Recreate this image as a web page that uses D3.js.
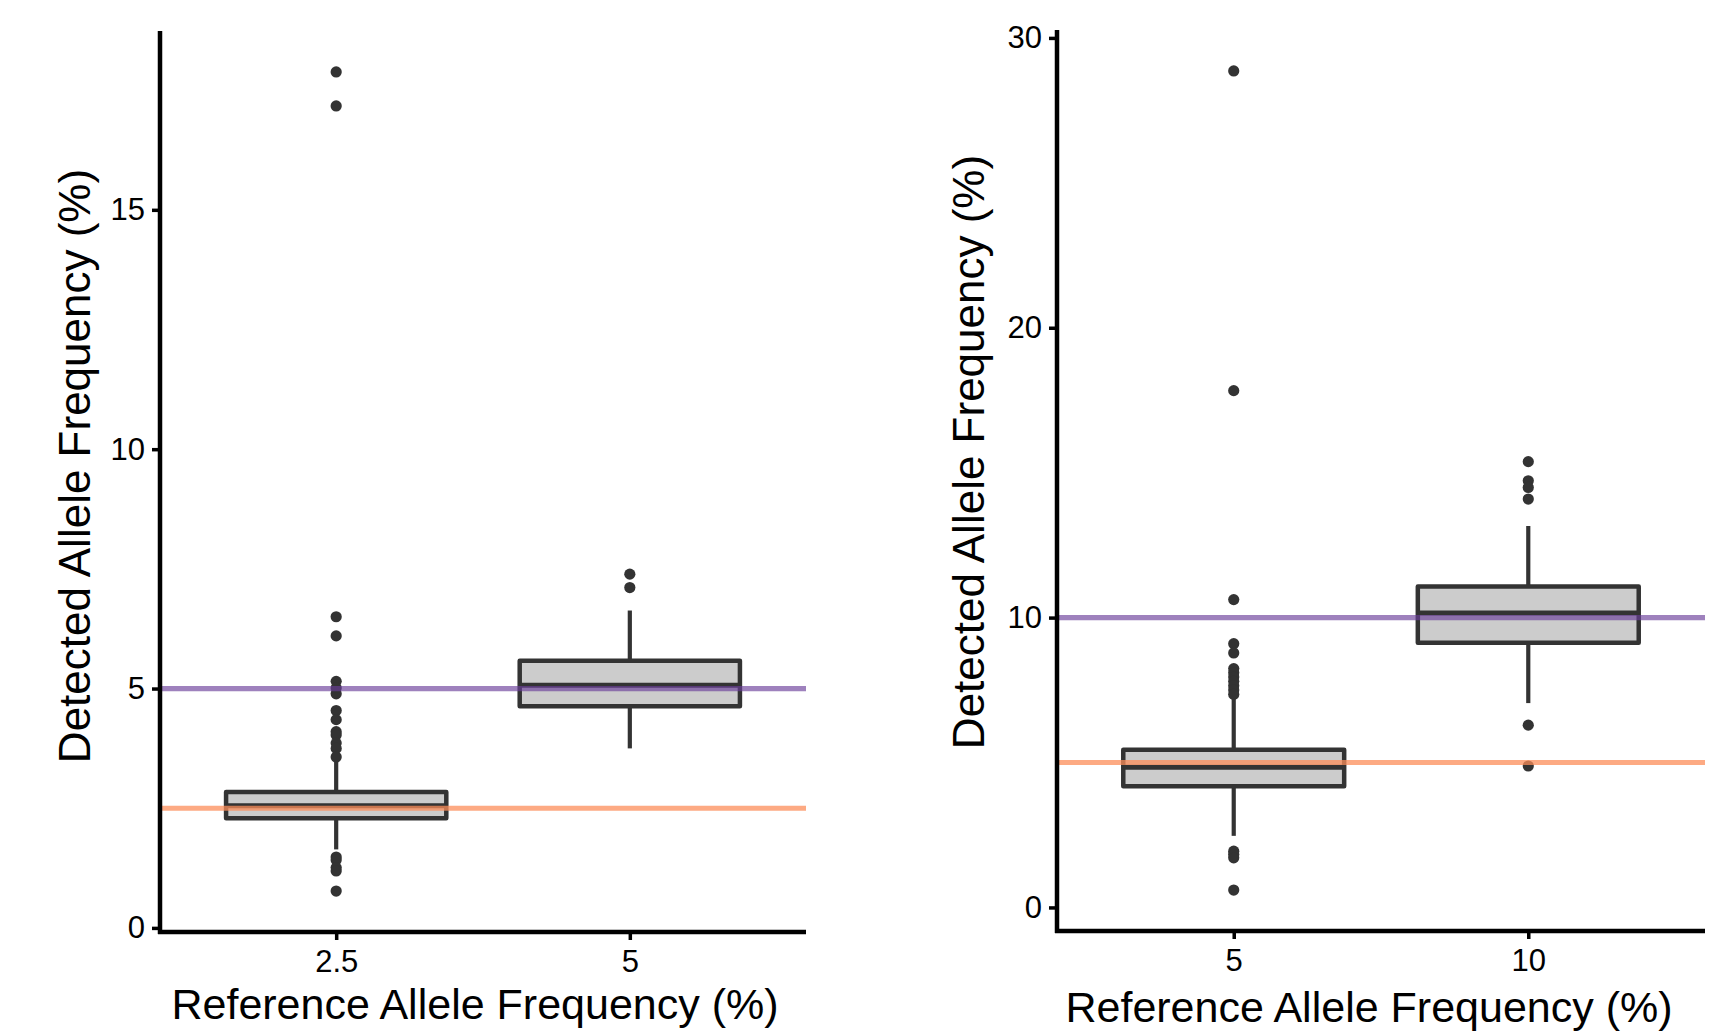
<!DOCTYPE html>
<html>
<head>
<meta charset="utf-8">
<script src="https://cdn.jsdelivr.net/npm/d3@7"></script>
<style>
  html, body { margin: 0; padding: 0; background: #fff; }
  svg { display: block; font-family: "Liberation Sans", Arial, sans-serif; }
</style>
</head>
<body>
<svg id="chart" width="1736" height="1031"></svg>
<script>
// Boxplots: detected vs reference allele frequency, two panels

// left panel data
const leftCategories = ['2.5', '5'];
const leftQ1 = [2.29, 4.63];
const leftMedian = [2.55, 5.07];
const leftQ3 = [2.84, 5.58];
const leftWhiskerLow = [1.64, 3.75];
const leftWhiskerHigh = [3.50, 6.63];
const leftOutliers = [
  [17.88, 17.17, 6.50, 6.10, 5.15, 5.01, 4.89, 4.54, 4.35, 4.10, 4.03, 3.86, 3.75, 3.57, 1.48, 1.42, 1.26, 1.19, 0.77],
  [7.39, 7.11]
];
const leftRefLines = [2.5, 5];

// right panel data
const rightCategories = ['5', '10'];
const rightQ1 = [4.18, 9.13];
const rightMedian = [4.84, 10.16];
const rightQ3 = [5.44, 11.07];
const rightWhiskerLow = [2.47, 7.05];
const rightWhiskerHigh = [7.25, 13.16];
const rightOutliers = [
  [28.86, 17.83, 10.62, 9.10, 8.78, 8.24, 8.10, 7.95, 7.80, 7.65, 7.50, 7.35, 1.94, 1.83, 1.71, 0.60],
  [15.38, 14.72, 14.49, 14.09, 6.29, 4.88]
];
const rightRefLines = [5, 10];

const X_TITLE = 'Reference Allele Frequency (%)';
const Y_TITLE = 'Detected Allele Frequency (%)';

const REF_COLORS = ['#fc8d59', '#6a3d9a'];
const REF_OPACITY = [0.75, 0.65];

const svg = d3.select('#chart');

function drawPanel(opts) {
  const { cats, q1, med, q3, lo, hi, outliers, refs, x0, x1, y0, y1, yTicks, yTitleX, yTitleY, xTitleX, xTitleY } = opts;
  const g = svg.append('g');

  // y domain like ggplot: data range + 5% each side
  const all = [].concat(lo, hi, ...outliers);
  const [mn, mx] = d3.extent(all);
  const pad = (mx - mn) * 0.05;
  const y = d3.scaleLinear().domain([mn - pad, mx + pad]).range([y1, y0]);
  const x = d3.scalePoint().domain(cats).range([x0, x1]).padding(0.6);
  const bw = x.step() * 0.75;

  const stats = cats.map((c, i) => ({ c, q1: q1[i], med: med[i], q3: q3[i], lo: lo[i], hi: hi[i], out: outliers[i] }));

  // whiskers
  g.append('g').selectAll('line')
    .data(stats.flatMap(d => [[d.c, d.q3, d.hi], [d.c, d.q1, d.lo]]))
    .join('line')
    .attr('x1', d => x(d[0])).attr('x2', d => x(d[0]))
    .attr('y1', d => y(d[1])).attr('y2', d => y(d[2]))
    .attr('stroke', '#333').attr('stroke-width', 4.2);

  // boxes
  g.append('g').selectAll('rect')
    .data(stats)
    .join('rect')
    .attr('x', d => x(d.c) - bw / 2)
    .attr('width', bw)
    .attr('y', d => y(d.q3))
    .attr('height', d => y(d.q1) - y(d.q3))
    .attr('fill', '#cccccc')
    .attr('stroke', '#333').attr('stroke-width', 4.5)
    .attr('stroke-linejoin', 'round');

  // medians
  g.append('g').selectAll('line')
    .data(stats)
    .join('line')
    .attr('x1', d => x(d.c) - bw / 2).attr('x2', d => x(d.c) + bw / 2)
    .attr('y1', d => y(d.med)).attr('y2', d => y(d.med))
    .attr('stroke', '#333').attr('stroke-width', 5);

  // outliers
  g.append('g').selectAll('circle')
    .data(stats.flatMap(d => d.out.map(v => [d.c, v])))
    .join('circle')
    .attr('cx', d => x(d[0])).attr('cy', d => y(d[1]))
    .attr('r', 5.6)
    .attr('fill', '#333');

  // reference lines (drawn on top, semi-transparent)
  g.append('g').selectAll('line')
    .data(refs)
    .join('line')
    .attr('x1', x0).attr('x2', x1)
    .attr('y1', d => y(d)).attr('y2', d => y(d))
    .attr('stroke', (d, i) => REF_COLORS[i])
    .attr('stroke-opacity', (d, i) => REF_OPACITY[i])
    .attr('stroke-width', 5.2);

  // axes
  const yAxis = g.append('g')
    .attr('transform', `translate(${x0},0)`)
    .call(d3.axisLeft(y).tickValues(yTicks).tickSize(8).tickPadding(7).tickFormat(d3.format('d')));
  const xAxis = g.append('g')
    .attr('transform', `translate(0,${y1})`)
    .call(d3.axisBottom(x).tickSize(8).tickPadding(10));

  [yAxis, xAxis].forEach(a => {
    a.select('.domain').attr('stroke', '#000').attr('stroke-width', 4.5);
    a.selectAll('.tick line').attr('stroke', '#000').attr('stroke-width', 3.5);
    a.selectAll('.tick text').attr('fill', '#000').style('font-size', '31px')
      .style('font-family', '"Liberation Sans", Arial, sans-serif');
  });
  // domain path without outer ticks
  yAxis.select('.domain').attr('d', `M0,${y1 + 2}V${y0}`);
  xAxis.select('.domain').attr('d', `M${x0 - 2},0H${x1}`);

  // titles
  g.append('text')
    .attr('x', xTitleX).attr('y', xTitleY)
    .attr('text-anchor', 'middle')
    .style('font-size', '43px')
    .text(X_TITLE);

  g.append('text')
    .attr('transform', `translate(${yTitleX},${yTitleY}) rotate(-90)`)
    .attr('text-anchor', 'middle')
    .style('font-size', '44px')
    .text(Y_TITLE);
}

drawPanel({
  cats: leftCategories, q1: leftQ1, med: leftMedian, q3: leftQ3,
  lo: leftWhiskerLow, hi: leftWhiskerHigh, outliers: leftOutliers, refs: leftRefLines,
  x0: 160, x1: 806, y0: 31, y1: 932, yTicks: [0, 5, 10, 15],
  yTitleX: 90, yTitleY: 466, xTitleX: 475, xTitleY: 1019
});

drawPanel({
  cats: rightCategories, q1: rightQ1, med: rightMedian, q3: rightQ3,
  lo: rightWhiskerLow, hi: rightWhiskerHigh, outliers: rightOutliers, refs: rightRefLines,
  x0: 1057, x1: 1705, y0: 30, y1: 931, yTicks: [0, 10, 20, 30],
  yTitleX: 984, yTitleY: 452, xTitleX: 1369, xTitleY: 1022
});
</script>
</body>
</html>
